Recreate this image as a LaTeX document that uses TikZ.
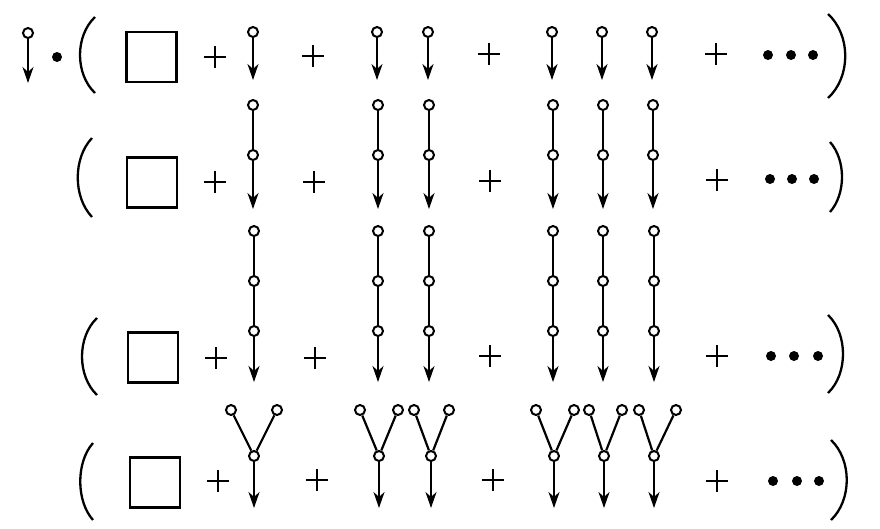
\documentclass[tikz,border=0pt]{standalone}
\usetikzlibrary{arrows.meta}
\begin{document}
\begin{tikzpicture}[x=1pt,y=-1pt,
  vtx/.style={circle,draw,fill=white,inner sep=0pt,minimum size=10pt,line width=2pt},
  edge/.style={line width=2.2pt},
  arr/.style={edge,-{Stealth[length=16pt,width=11pt,inset=5pt]}},
  sq/.style={draw,line width=2.4pt,minimum size=50pt,inner sep=0pt},
  plus/.style={minimum size=22pt,inner sep=0pt,
    path picture={\draw[line width=2pt] (path picture bounding box.north) -- (path picture bounding box.south)
      (path picture bounding box.west) -- (path picture bounding box.east);}},
  dotn/.style={circle,fill,inner sep=0pt,minimum size=10pt},
  par/.style={line width=2.3pt}]
\useasboundingbox (0,0) rectangle (880,528);

% ---------- row 1 ----------
\node[vtx] (a0) at (28,33) {};
\coordinate (a0t) at (28,83);
\draw[arr] (a0) -- (a0t);
\node[dotn] (mul) at (57,57) {};
\draw[par] (95,17) .. controls (75,36) and (75,74) .. (95,93);
\node[sq] (s1) at (151.5,57) {};
\foreach \x [count=\i] in {253,377,428,552,602,652}{
  \node[vtx] (r1c\i) at (\x,32) {};
  \coordinate (r1t\i) at (\x,80);
  \draw[arr] (r1c\i) -- (r1t\i);
}
\node[plus] (p11) at (215,57) {};
\node[plus] (p12) at (313,56) {};
\node[plus] (p13) at (489,54) {};
\node[plus] (p14) at (716,54) {};
\foreach \x [count=\i] in {768,791,813}{\node[dotn] (d1\i) at (\x,55) {};}
\draw[par] (828,14) .. controls (851,35) and (851,77) .. (828,98);

% ---------- row 2 ----------
\draw[par] (92,138) .. controls (73,158) and (73,197) .. (92,217);
\node[sq] (s2) at (152,182.5) {};
\foreach \x [count=\i] in {253,378,429,553,603,653}{
  \node[vtx] (r2a\i) at (\x,105) {};
  \node[vtx] (r2b\i) at (\x,155) {};
  \coordinate (r2t\i) at (\x,209);
  \draw[edge] (r2a\i) -- (r2b\i);
  \draw[arr] (r2b\i) -- (r2t\i);
}
\node[plus] (p21) at (215,182) {};
\node[plus] (p22) at (314,182) {};
\node[plus] (p23) at (490,181) {};
\node[plus] (p24) at (717,180) {};
\foreach \x [count=\i] in {770,792,814}{\node[dotn] (d2\i) at (\x,179) {};}
\draw[par] (830,142) .. controls (846,160) and (846,194) .. (830,212);

% ---------- row 3 ----------
\draw[par] (97,318) .. controls (77,337) and (77,376) .. (97,395);
\node[sq] (s3) at (153,357.5) {};
\foreach \x [count=\i] in {254,378,429,553,603,654}{
  \node[vtx] (r3a\i) at (\x,231) {};
  \node[vtx] (r3b\i) at (\x,281) {};
  \node[vtx] (r3c\i) at (\x,331) {};
  \coordinate (r3t\i) at (\x,382);
  \draw[edge] (r3a\i) -- (r3b\i);
  \draw[edge] (r3b\i) -- (r3c\i);
  \draw[arr] (r3c\i) -- (r3t\i);
}
\node[plus] (p31) at (216,358) {};
\node[plus] (p32) at (315,358) {};
\node[plus] (p33) at (490,356) {};
\node[plus] (p34) at (717,356) {};
\foreach \x [count=\i] in {771,794,818}{\node[dotn] (d3\i) at (\x,356) {};}
\draw[par] (828,315) .. controls (848,334) and (848,374) .. (828,393);

% ---------- row 4 ----------
\draw[par] (93,443) .. controls (76,462) and (76,501) .. (93,520);
\node[sq] (s4) at (155,482.5) {};
\foreach \x/\l/\r [count=\i] in {254/231/277,379/360/398,431/414/449,554/536/574,604/589/622,654/639/676}{
  \node[vtx] (r4l\i) at (\l,410) {};
  \node[vtx] (r4r\i) at (\r,410) {};
  \node[vtx] (r4m\i) at (\x,456) {};
  \coordinate (r4t\i) at (\x,508);
  \draw[edge] (r4l\i) -- (r4m\i);
  \draw[edge] (r4r\i) -- (r4m\i);
  \draw[arr] (r4m\i) -- (r4t\i);
}
\node[plus] (p41) at (218,481) {};
\node[plus] (p42) at (317,480) {};
\node[plus] (p43) at (493,480) {};
\node[plus] (p44) at (717,481) {};
\foreach \x [count=\i] in {773,797,819}{\node[dotn] (d4\i) at (\x,481) {};}
\draw[par] (831,440) .. controls (852,460) and (852,500) .. (831,520);
\end{tikzpicture}
\end{document}
